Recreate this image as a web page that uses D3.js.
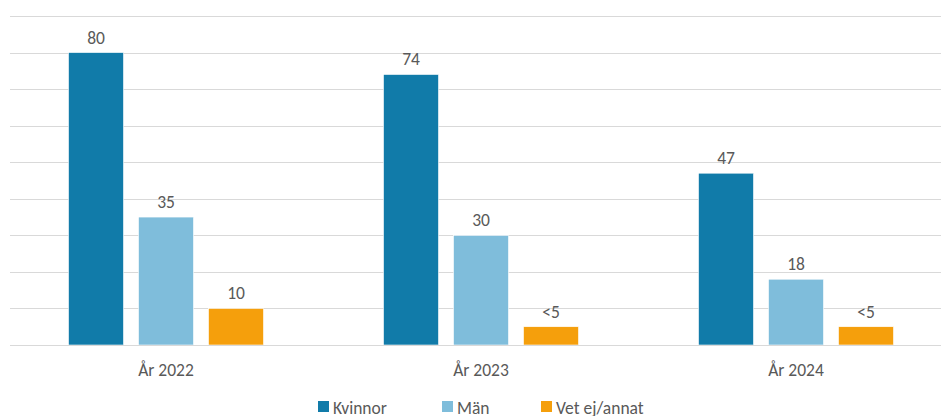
<!DOCTYPE html>
<html>
<head>
<meta charset="utf-8">
<script src="https://cdn.jsdelivr.net/npm/d3@7"></script>
<style>
  body { margin: 0; background: #fff; }
  svg text { font-family: Carlito, Calibri, "Open Sans", sans-serif; fill: #595959; }
</style>
</head>
<body>
<svg id="chart"></svg>
<script>
const width = 941, height = 416;
const years = ["År 2022", "År 2023", "År 2024"];
const series = ["Kvinnor", "Män", "Vet ej/annat"];
const kvinnor = [80, 74, 47];
const man = [35, 30, 18];
const vetej = [10, 5, 5];
const vetejLabels = ["10", "<5", "<5"];
const colors = ["#117ba9", "#7fbddb", "#f59f0c"];
const gridTicks = d3.range(0, 100, 10);

const values = [kvinnor, man, vetej];
const labels = [kvinnor.map(String), man.map(String), vetejLabels];

const svg = d3.select('#chart').attr('width', width).attr('height', height);

const y = d3.scaleLinear().domain([0, 90]).range([345, 16]);
const x0 = d3.scaleBand().domain(years).range([8.5, 953.5]);
const x1 = d3.scaleBand().domain(series).range([-97.5, 97.5]).paddingInner(15 / 70);

// gridlines
svg.append('g').selectAll('line').data(gridTicks).enter().append('line')
  .attr('x1', 10).attr('x2', width)
  .attr('y1', d => Math.round(y(d)) + 0.5).attr('y2', d => Math.round(y(d)) + 0.5)
  .attr('stroke', '#d9d9d9').attr('stroke-width', 1);

const groups = svg.append('g').selectAll('g').data(years).enter().append('g')
  .attr('transform', d => `translate(${x0(d) + x0.bandwidth() / 2},0)`);

groups.each(function (yr, i) {
  const g = d3.select(this);
  const rows = series.map((s, j) => ({ s, j, v: values[j][i], lab: labels[j][i] }));
  g.selectAll('rect').data(rows).enter().append('rect')
    .attr('x', d => x1(d.s))
    .attr('width', x1.bandwidth())
    .attr('y', d => y(d.v))
    .attr('height', d => y(0) - y(d.v))
    .attr('fill', d => colors[d.j])
    .attr('stroke', '#ffffff').attr('stroke-width', 0.6);
  g.selectAll('text.val').data(rows).enter().append('text')
    .attr('class', 'val')
    .attr('x', d => x1(d.s) + x1.bandwidth() / 2)
    .attr('y', d => y(d.v) - 9)
    .attr('text-anchor', 'middle')
    .style('font-size', '17.5px')
    .text(d => d.lab);
});

// baseline
svg.append('line').attr('x1', 10).attr('x2', width)
  .attr('y1', Math.round(y(0)) + 0.5).attr('y2', Math.round(y(0)) + 0.5)
  .attr('stroke', '#d9d9d9');

// category axis labels
svg.append('g').selectAll('text').data(years).enter().append('text')
  .attr('x', d => x0(d) + x0.bandwidth() / 2)
  .attr('y', 376)
  .attr('text-anchor', 'middle')
  .style('font-size', '17.5px')
  .text(d => d);

// legend
const legendX = [318, 442, 541];
const legend = svg.append('g').selectAll('g').data(series).enter().append('g')
  .attr('transform', (d, i) => `translate(${legendX[i]},401)`);
legend.append('rect').attr('width', 11).attr('height', 11).attr('fill', (d, i) => colors[i]);
legend.append('text').attr('x', 15).attr('y', 13).style('font-size', '17.5px').text(d => d);
</script>
</body>
</html>
